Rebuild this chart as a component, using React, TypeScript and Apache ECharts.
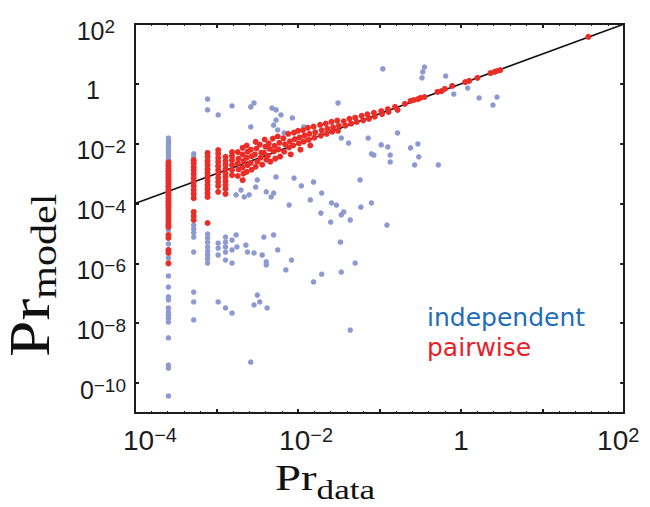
import React, { useEffect, useRef } from "react";
import * as echarts from "echarts";

// All values are decade exponents: [log10 Pr_data, log10 Pr_model].

// x positions of the discrete low-count columns (1/N ... 6/N)
const columnLog10X = [-3.59, -3.28, -3.11, -2.98, -2.89, -2.81];

// independent model: log10 Pr_model in each low-count column
const independentColumns: number[][] = [
  [-1.81, -1.91, -2.01, -2.11, -2.21, -2.31, -2.41, -2.51, -4.88, -5.35, -5.82, -6.42, -6.79, -7.12, -7.22, -7.49, -7.63, -7.73, -7.83, -7.96, -8.49, -9.4, -9.5, -10.43],
  [-2.34, -2.44, -4.72, -4.85, -4.98, -5.12, -5.62, -6.96, -7.29, -7.89],
  [-0.51, -0.87, -5.02, -5.15, -5.29, -5.45, -5.59, -5.72, -5.85, -5.99],
  [-1.04, -5.32, -5.49, -5.72, -7.29],
  [-5.12, -5.29, -5.45, -5.62, -5.89, -7.49],
  [-0.74, -5.22, -5.55, -5.99, -7.66],
];

// independent model: remaining patterns
const independentScatter: [number, number][] = [
  [-2.54, -0.64], [-2.58, -0.77], [-2.32, -0.81], [-2.27, -0.87], [-2.27, -1.21], [-2.21, -1.04],
  [-2.07, -1.14], [-2.3, -1.38], [-2.25, -1.54], [-2.58, -1.44], [-2.17, -1.64], [-1.93, -1.44],
  [-1.51, -0.64], [-0.96, 0.5], [-1.14, -1.81], [-1.47, -1.81], [-1.38, -1.98],
  [-2.05, -3.15], [-1.96, -3.41], [-1.81, -3.28], [-1.71, -3.65], [-1.85, -3.88], [-1.59, -3.98],
  [-1.53, -4.05], [-1.44, -4.28], [-1.47, -4.38], [-1.36, -4.55], [-1.23, -4.12], [-1.1, -3.98],
  [-1.24, -3.21], [-1.72, -4.32], [-1.6, -4.62], [-2.11, -4.05], [-2.3, -3.65], [-2.33, -3.78],
  [-2.39, -3.61], [-2.52, -3.45], [-2.6, -3.71], [-2.66, -3.78], [-2.7, -3.55], [-2.76, -3.71],
  [-2.27, -3.11], [-2.5, -3.21],
  [-2.3, -5.05], [-2.42, -5.12], [-2.76, -5.05], [-2.75, -5.45], [-2.64, -5.39], [-2.62, -5.62],
  [-2.54, -5.65], [-2.44, -5.72], [-2.39, -5.95], [-2.39, -6.05], [-2.08, -5.89], [-1.48, -5.29],
  [-1.3, -5.99], [-1.47, -6.29], [-1.71, -6.36], [-2.15, -6.22], [-2.25, -5.55], [-1.81, -6.62],
  [-2.5, -7.06], [-2.47, -7.29], [-2.54, -7.39], [-2.38, -7.49], [-1.36, -8.23], [-2.58, -9.3],
  [-0.45, 0.56], [-0.47, 0.4], [-0.48, 0.2], [-0.19, 0.26], [0.08, -0.14], [-0.09, -0.34],
  [0.22, -0.47], [0.44, -0.44], [0.39, -0.71], [-0.78, -1.64], [-0.98, -2.04], [-0.9, -2.11],
  [-0.62, -2.14], [-0.53, -2.01], [-1.1, -2.34], [-1.07, -2.38], [-0.87, -2.38], [-0.87, -2.61],
  [-0.52, -2.44], [-0.57, -2.71], [-0.28, -2.71], [-0.91, -4.72],
];

// pairwise model: log10 Pr_model in each low-count column
const pairwiseColumns: number[][] = [
  [-2.62, -2.72, -2.82, -2.92, -3.02, -3.12, -3.22, -3.32, -3.42, -3.52, -3.62, -3.72, -3.82, -3.92, -4.02, -4.12, -4.22, -4.32, -4.42, -4.52, -4.62, -4.72, -4.78, -5.05, -5.15, -5.55, -5.65, -6.0],
  [-2.55, -2.65, -2.78, -2.88, -3.01, -3.15, -3.28, -3.41, -3.55, -3.68, -3.82, -4.28, -4.42, -4.55],
  [-2.31, -2.44, -2.58, -2.71, -2.85, -2.98, -3.11, -3.25, -3.38, -3.51, -3.65, -3.78, -4.65],
  [-2.21, -2.34, -2.48, -2.61, -2.75, -2.88, -3.01, -3.15, -3.28, -3.41, -3.61],
  [-2.44, -2.58, -2.71, -2.85, -2.98, -3.11, -3.25, -3.38, -3.51, -3.68],
  [-2.28, -2.41, -2.55, -2.71, -2.88, -3.05],
];

// pairwise model: remaining patterns, hugging the diagonal
const pairwiseScatter: [number, number][] = [
  [-2.74, -2.28], [-2.73, -2.5], [-2.74, -2.66], [-2.73, -2.86], [-2.74, -3.08],
  [-2.68, -2.14], [-2.68, -2.36], [-2.67, -2.58], [-2.68, -2.79], [-2.67, -3.0], [-2.68, -3.22],
  [-2.63, -2.06], [-2.62, -2.27], [-2.63, -2.47], [-2.62, -2.72], [-2.63, -2.94],
  [-2.58, -2.2], [-2.57, -2.42], [-2.58, -2.64], [-2.57, -2.87],
  [-2.52, -1.94], [-2.51, -2.16], [-2.53, -2.36], [-2.5, -2.6], [-2.52, -2.77],
  [-2.47, -2.03], [-2.45, -2.3], [-2.46, -2.47], [-2.44, -2.7],
  [-2.41, -1.86], [-2.4, -2.1], [-2.42, -2.3], [-2.39, -2.53],
  [-2.36, -1.99], [-2.35, -2.17], [-2.37, -2.4], [-2.34, -2.6],
  [-2.31, -1.83], [-2.29, -2.07], [-2.3, -2.26], [-2.28, -2.5],
  [-2.25, -1.76], [-2.23, -1.97], [-2.24, -2.19], [-2.22, -2.43],
  [-2.18, -1.82], [-2.16, -2.02], [-2.17, -2.27],
  [-2.12, -1.67], [-2.1, -1.92], [-2.11, -2.12], [-2.09, -2.36],
  [-2.05, -1.63], [-2.04, -1.85], [-2.06, -2.06],
  [-2.0, -1.57], [-1.98, -1.79], [-1.99, -1.99], [-1.97, -2.2],
  [-1.94, -1.55], [-1.92, -1.73], [-1.93, -1.93],
  [-1.88, -1.47], [-1.86, -1.67], [-1.87, -1.87], [-1.85, -2.06],
  [-1.81, -1.43], [-1.79, -1.62], [-1.8, -1.8],
  [-1.73, -1.37], [-1.71, -1.55], [-1.72, -1.73],
  [-1.66, -1.33], [-1.64, -1.5], [-1.65, -1.67],
  [-1.59, -1.27], [-1.57, -1.45], [-1.58, -1.6],
  [-1.52, -1.23], [-1.5, -1.4], [-1.51, -1.57],
  [-1.44, -1.25], [-1.42, -1.4],
  [-1.37, -1.17], [-1.35, -1.33],
  [-1.3, -1.13], [-1.28, -1.27],
  [-1.22, -1.07], [-1.2, -1.22],
  [-1.15, -1.02], [-1.13, -1.17],
  [-1.07, -0.97], [-1.06, -1.1],
  [-0.98, -0.91], [-0.97, -1.01], [-0.9, -0.84], [-0.89, -0.94], [-0.81, -0.77], [-0.78, -0.87],
  [-0.69, -0.67], [-0.62, -0.57], [-0.58, -0.54], [-0.53, -0.51], [-0.5, -0.47], [-0.45, -0.44],
  [-0.29, -0.27], [-0.24, -0.24], [-0.2, -0.17], [-0.11, -0.07], [0.05, 0.06], [0.1, 0.1],
  [0.2, 0.2], [0.36, 0.36], [0.41, 0.4], [0.44, 0.43], [0.48, 0.46], [1.56, 1.57],
];

// the identity Pr_model = Pr_data across the plotted range
const identityLine: [number, number][] = [[-4, -4], [2, 2]];

// tick positions (decade exponents)
const xTicks = [-4, -3, -2, -1, 0, 1, 2];
const yTicks = [-10, -8, -6, -4, -2, 0, 2];

const X_MIN = -4;
const X_MAX = 2;
const Y_MIN = -11;
const Y_MAX = 2;

const INK = "#1c1c1c";
const SANS = "Liberation Sans";
const SERIF = "Liberation Serif";

function expandColumns(xs: number[], cols: number[][]): [number, number][] {
  const out: [number, number][] = [];
  cols.forEach((ys, i) => ys.forEach((y) => out.push([xs[i], y])));
  return out;
}

const independentData = [...expandColumns(columnLog10X, independentColumns), ...independentScatter];
const pairwiseData = [...expandColumns(columnLog10X, pairwiseColumns), ...pairwiseScatter];

function xLabel(v: number): string {
  switch (Math.round(v)) {
    case -4: return "{g30| }{b|10}{s|\u22124}";
    case -2: return "{g16| }{b|10}{s|\u22122}";
    case 0: return "{b|1}";
    case 2: return "{b|10}{s|2}{g12| }";
    default: return "";
  }
}

function yLabel(v: number): string {
  const e = Math.round(v);
  if (e === 2) return "{b|10}{s|2}{g11| }";
  if (e === 0) return "{b|1}{g26| }";
  if (e === -10) return "{b|0}{s|\u221210}";
  if (e < 0 && e % 2 === 0) return `{b|10}{s|\u2212${-e}}`;
  return "";
}

const axisLine = { show: true, onZero: false, lineStyle: { color: INK, width: 2 } };

export default function App() {
  const ref = useRef<HTMLDivElement>(null);

  useEffect(() => {
    document.body.style.margin = "0";
    if (!ref.current) return;
    const chart = echarts.init(ref.current, null, { renderer: "svg" });

    const xCommon = {
      type: "value" as const,
      min: X_MIN,
      max: X_MAX,
      interval: 1,
      axisLine,
      axisTick: { show: true, inside: true, length: 4, customValues: xTicks, lineStyle: { color: INK, width: 2 } },
      minorTick: { show: true, splitNumber: 5, length: 2, lineStyle: { color: INK, width: 1 } },
      splitLine: { show: false },
      minorSplitLine: { show: false },
    };
    const yCommon = {
      type: "value" as const,
      min: Y_MIN,
      max: Y_MAX,
      axisLine,
      axisTick: { show: true, inside: true, length: 4, customValues: yTicks, lineStyle: { color: INK, width: 2 } },
      splitLine: { show: false },
    };

    const legendFont = { fontSize: 25, lineHeight: 30, fontFamily: "DejaVu Sans" };

    chart.setOption({
      animation: false,
      backgroundColor: "#ffffff",
      grid: { left: 135, right: 22, top: 24, bottom: 94, containLabel: false },
      xAxis: [
        {
          ...xCommon,
          position: "bottom",
          axisLabel: {
            show: true,
            customValues: xTicks,
            margin: 12,
            hideOverlap: false,
            formatter: xLabel,
            rich: {
              b: { fontSize: 28, lineHeight: 30, fontFamily: SANS, color: INK },
              s: { fontSize: 20, lineHeight: 18, verticalAlign: "top", fontFamily: SANS, color: INK },
              g30: { width: 30 },
              g16: { width: 16 },
              g12: { width: 12 },
            },
          },
        },
        { ...xCommon, position: "top", axisLabel: { show: false } },
      ],
      yAxis: [
        {
          ...yCommon,
          position: "left",
          axisLabel: {
            show: true,
            customValues: yTicks,
            margin: 9,
            padding: [13, 0, 0, 0],
            hideOverlap: false,
            formatter: yLabel,
            rich: {
              b: { fontSize: 25, lineHeight: 27, fontFamily: SANS, color: INK },
              s: { fontSize: 19, lineHeight: 16, verticalAlign: "top", fontFamily: SANS, color: INK },
              g26: { width: 26 },
              g11: { width: 11 },
            },
          },
        },
        { ...yCommon, position: "right", axisLabel: { show: false } },
      ],
      series: [
        {
          type: "line",
          data: identityLine,
          symbol: "none",
          z: 1,
          lineStyle: { color: "#111111", width: 1.5 },
        },
        {
          name: "independent",
          type: "scatter",
          data: independentData,
          symbol: "circle",
          symbolSize: 5.5,
          z: 2,
          itemStyle: { color: "#8d99d1", opacity: 1 },
        },
        {
          name: "pairwise",
          type: "scatter",
          data: pairwiseData,
          symbol: "circle",
          symbolSize: 6,
          z: 3,
          itemStyle: { color: "#eb2d28", opacity: 1 },
        },
      ],
      graphic: [
        {
          type: "text",
          x: 2,
          y: 357,
          rotation: Math.PI / 2,
          scaleX: 1.17,
          style: {
            text: "{a|Pr}{b|model}",
            align: "left",
            verticalAlign: "top",
            fill: "#111111",
            rich: {
              a: { fontSize: 56, lineHeight: 62, verticalAlign: "top", fontFamily: SERIF, fill: "#111111" },
              b: { fontSize: 36, lineHeight: 40, padding: [24, 0, 0, 0], verticalAlign: "top", fontFamily: SERIF, fill: "#111111" },
            },
          },
        },
        {
          type: "text",
          x: 275,
          y: 460,
          scaleX: 1.3,
          style: {
            text: "{a|Pr}{b|data}",
            align: "left",
            verticalAlign: "top",
            fill: "#111111",
            rich: {
              a: { fontSize: 36, lineHeight: 40, verticalAlign: "top", fontFamily: SERIF, fill: "#111111" },
              b: { fontSize: 27, lineHeight: 30, padding: [16, 0, 0, 0], verticalAlign: "top", fontFamily: SERIF, fill: "#111111" },
            },
          },
        },
        {
          // two-line series key
          type: "text",
          x: 427,
          y: 302,
          style: {
            text: "{i|independent}\n{p|pairwise}",
            align: "left",
            verticalAlign: "top",
            rich: {
              i: { ...legendFont, fill: "#1f6cb8" },
              p: { ...legendFont, fill: "#e61e28" },
            },
          },
        },
      ],
    });

    return () => chart.dispose();
  }, []);

  return (
    <div
      ref={ref}
      style={{ position: "fixed", left: 0, top: 0, width: 650, height: 507, background: "#ffffff" }}
    />
  );
}
